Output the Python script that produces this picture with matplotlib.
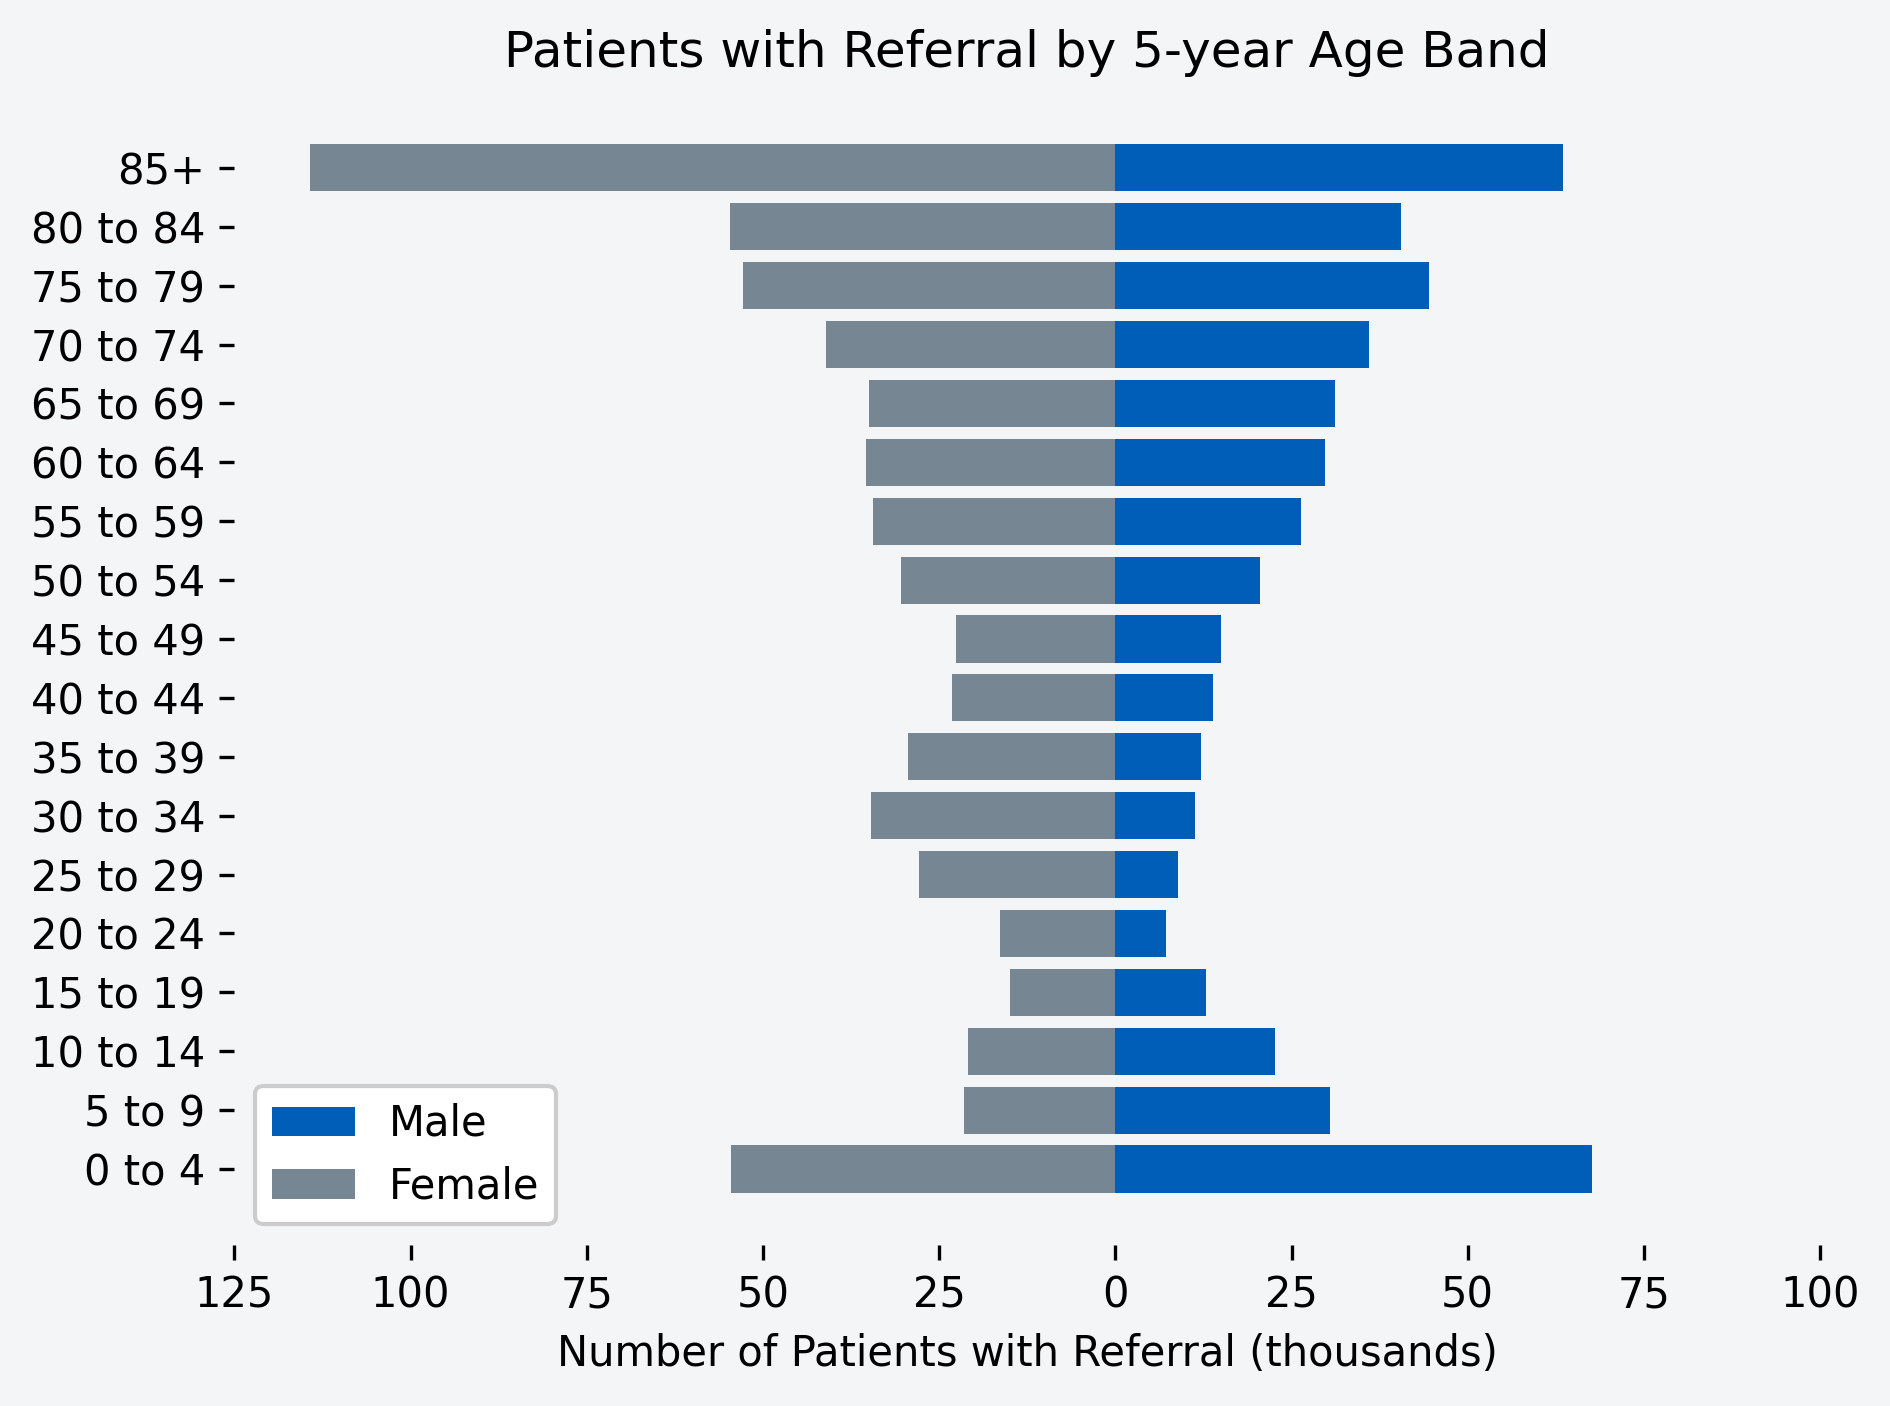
import matplotlib.pyplot as plt
import numpy as np

age_bands = [
    "0 to 4", "5 to 9", "10 to 14", "15 to 19", "20 to 24", "25 to 29",
    "30 to 34", "35 to 39", "40 to 44", "45 to 49", "50 to 54", "55 to 59",
    "60 to 64", "65 to 69", "70 to 74", "75 to 79", "80 to 84", "85+",
]
# thousands of patients
male = [67.7, 30.4, 22.7, 12.8, 7.2, 8.9, 11.3, 12.1, 13.8, 15.0,
        20.5, 26.3, 29.7, 31.2, 36.0, 44.5, 40.6, 63.5]
female = [54.5, 21.4, 20.9, 15.0, 16.4, 27.9, 34.7, 29.4, 23.2, 22.6,
          30.4, 34.4, 35.4, 34.9, 41.0, 52.8, 54.7, 114.2]
x_ticks = [-125, -100, -75, -50, -25, 0, 25, 50, 75, 100]

bg = "#F4F5F7"
male_colour = "#005EB8"
female_colour = "#768692"

fig, ax = plt.subplots(figsize=(6.3, 1406 / 300), dpi=300)
fig.patch.set_facecolor(bg)
ax.set_facecolor(bg)

y = np.arange(len(age_bands))
ax.barh(y, male, height=0.8, color=male_colour, label="Male")
ax.barh(y, -np.array(female), height=0.8, color=female_colour, label="Female")

ax.set_yticks(y)
ax.set_yticklabels(age_bands)
ax.set_xlim(-125, 100)
ax.set_xticks(x_ticks)
ax.set_xticklabels([str(abs(t)) for t in x_ticks])

for spine in ax.spines.values():
    spine.set_visible(False)

ax.set_title("Patients with Referral by 5-year Age Band", fontsize=12)
ax.set_xlabel("Number of Patients with Referral (thousands)")
ax.legend(loc="lower left", facecolor="white", framealpha=1)

fig.subplots_adjust(left=0.124, right=0.963, bottom=0.1145, top=0.9346)
fig.savefig("out.png", dpi=300, facecolor=bg)
